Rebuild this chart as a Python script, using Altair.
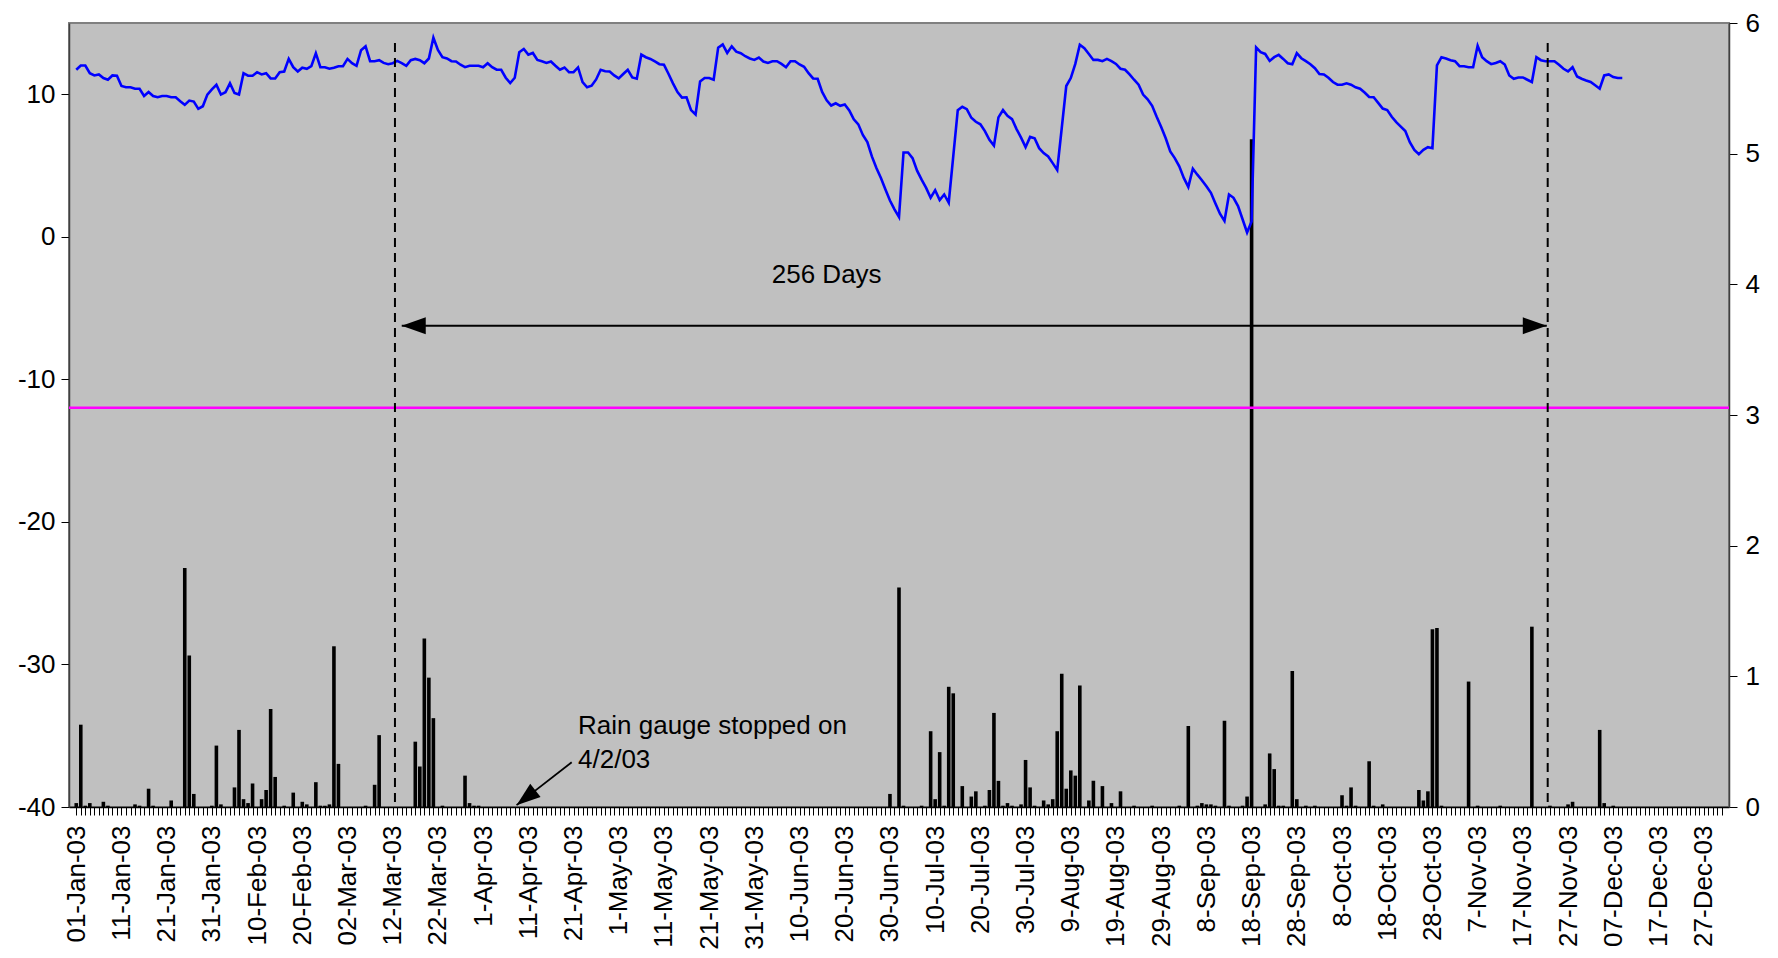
import altair as alt
import pandas as pd

FONT = "Liberation Sans"

# ---------------- data ----------------
tick_labels = [
    "01-Jan-03", "11-Jan-03", "21-Jan-03", "31-Jan-03", "10-Feb-03", "20-Feb-03",
    "02-Mar-03", "12-Mar-03", "22-Mar-03", "1-Apr-03", "11-Apr-03", "21-Apr-03",
    "1-May-03", "11-May-03", "21-May-03", "31-May-03", "10-Jun-03", "20-Jun-03",
    "30-Jun-03", "10-Jul-03", "20-Jul-03", "30-Jul-03", "9-Aug-03", "19-Aug-03",
    "29-Aug-03", "8-Sep-03", "18-Sep-03", "28-Sep-03", "8-Oct-03", "18-Oct-03",
    "28-Oct-03", "7-Nov-03", "17-Nov-03", "27-Nov-03", "07-Dec-03", "17-Dec-03",
    "27-Dec-03",
]
left_ticks = [-40, -30, -20, -10, 0, 10]
right_ticks = [0, 1, 2, 3, 4, 5, 6]

# daily values from 01-Jan-03 (left axis)
level_values = [
    11.72, 12.02, 12.02, 11.48, 11.32, 11.39, 11.14, 11.02, 11.32, 11.30,
    10.58, 10.49, 10.49, 10.39, 10.39, 9.88, 10.16, 9.88, 9.79, 9.88,
    9.88, 9.79, 9.79, 9.51, 9.26, 9.56, 9.49, 8.98, 9.16, 9.98,
    10.35, 10.67, 9.98, 10.14, 10.77, 10.09, 9.98, 11.48, 11.30, 11.30,
    11.55, 11.39, 11.48, 11.11, 11.11, 11.55, 11.60, 12.48, 11.90, 11.60,
    11.86, 11.79, 11.97, 12.88, 11.90, 11.90, 11.79, 11.86, 11.97, 11.97,
    12.48, 12.18, 12.00, 13.09, 13.36, 12.32, 12.32, 12.39, 12.20, 12.11,
    12.18, 12.34, 12.18, 12.00, 12.39, 12.48, 12.39, 12.18, 12.51, 13.97,
    13.11, 12.60, 12.51, 12.32, 12.30, 12.07,
    11.90, 12.00, 12.00, 12.00, 11.90, 12.18, 11.90, 11.72, 11.72, 11.16,
    10.79, 11.16, 12.95, 13.18, 12.78, 12.90, 12.41, 12.32, 12.20, 12.30,
    12.00, 11.72, 11.88, 11.55, 11.55, 11.88, 10.86, 10.49, 10.60, 11.04,
    11.72, 11.62, 11.60, 11.32, 11.11, 11.42, 11.72, 11.18, 11.09, 12.78,
    12.60, 12.48, 12.30, 12.11, 12.07, 11.44, 10.77, 10.16, 9.77, 9.79,
    8.89, 8.58, 10.90, 11.14, 11.14, 11.02, 13.27, 13.50, 12.90, 13.36,
    12.99, 12.88, 12.67, 12.51, 12.41, 12.58, 12.30, 12.20, 12.32, 12.32,
    12.13, 11.90, 12.32, 12.32, 12.09, 11.93, 11.48, 11.11, 11.09, 10.16,
    9.58, 9.21, 9.37, 9.19, 9.28, 8.86,
    8.24, 7.89, 7.15, 6.64, 5.64, 4.83, 4.13, 3.32, 2.55, 1.93,
    1.39, 5.92, 5.92, 5.52, 4.64, 4.01, 3.43, 2.74, 3.27, 2.58,
    2.97, 2.39, 5.64, 8.89, 9.12, 8.96, 8.35, 8.07, 7.89, 7.42,
    6.80, 6.40, 8.38, 8.89, 8.49, 8.26, 7.56, 6.96, 6.29, 7.01,
    6.91, 6.22, 5.87, 5.64, 5.17, 4.69, 7.63, 10.58, 11.14, 12.13,
    13.48, 13.23, 12.83, 12.41, 12.41, 12.32, 12.48, 12.32, 12.13, 11.79,
    11.72, 11.39, 11.02, 10.67, 9.98, 9.65, 9.19, 8.42, 7.70, 6.91,
    5.99, 5.52, 4.94, 4.13, 3.50, 4.78, 4.36, 3.97, 3.55, 3.09,
    2.34, 1.62, 1.11, 2.97, 2.74, 2.16, 1.23, 0.30,
    1.07,
    13.29, 12.95, 12.83, 12.34, 12.60, 12.76, 12.48, 12.18, 12.11, 12.88,
    12.53, 12.32, 12.11, 11.83, 11.42, 11.39, 11.16, 10.86, 10.67, 10.67,
    10.77, 10.67, 10.49, 10.39, 10.12, 9.81, 9.79, 9.40, 9.00, 8.89,
    8.42, 8.05, 7.73, 7.42, 6.64, 6.10, 5.80, 6.10, 6.29, 6.22,
    12.02, 12.60, 12.51, 12.39, 12.32, 11.97, 11.97, 11.90, 11.90, 13.41,
    12.60, 12.32, 12.11, 12.20, 12.32, 12.09, 11.32, 11.09, 11.18, 11.18,
    11.02, 10.86, 12.60, 12.39, 12.32, 12.32, 12.32, 12.07, 11.79, 11.60,
    11.90, 11.25, 11.09, 10.97, 10.86, 10.63, 10.39, 11.32, 11.39, 11.21,
    11.14, 11.14,
]

# rain (right axis): day index from 01-Jan-03 and amount
rain_day = [
    0, 1, 2, 3, 6, 7, 13, 14, 16, 17, 21, 24, 25, 26, 30, 31, 32, 35, 36, 37,
    38, 39, 41, 42, 43, 44, 46, 48, 50, 51, 53, 54, 55, 56, 57, 58, 64, 66, 67, 75,
    76, 77, 78, 79, 81, 86, 87, 88, 89,
    180, 182, 183, 187, 189, 190, 191, 192, 193, 194, 196, 198, 199, 201, 202, 203,
    204, 205, 206, 207, 209, 210, 211, 212, 214, 215, 216, 217, 218, 219, 220, 221,
    222, 224, 225, 227, 229, 231, 234, 238, 244, 246, 248, 249, 250, 251, 252, 254,
    255, 258, 259, 260, 263, 264, 265, 266, 267, 269, 270, 272, 274, 280, 281, 282,
    283, 286, 287, 289, 297, 298, 299, 300, 301, 302, 308, 310, 315, 322, 326, 330,
    331, 337, 338, 340,
]
rain_value = [
    0.03, 0.63, 0.01, 0.03, 0.04, 0.01, 0.02, 0.01, 0.14, 0.01, 0.05, 1.83, 1.16, 0.10, 0.01, 0.47, 0.02, 0.15, 0.59, 0.06,
    0.03, 0.18, 0.06, 0.13, 0.75, 0.23, 0.01, 0.11, 0.04, 0.02, 0.19, 0.01, 0.01, 0.02, 1.23, 0.33, 0.01, 0.17, 0.55, 0.50,
    0.31, 1.29, 0.99, 0.68, 0.01, 0.24, 0.03, 0.01, 0.01,
    0.10, 1.68, 0.01, 0.01, 0.58, 0.06, 0.42, 0.01, 0.92, 0.87, 0.16, 0.08, 0.12, 0.01, 0.13, 0.72,
    0.20, 0.01, 0.03, 0.01, 0.02, 0.36, 0.15, 0.01, 0.05, 0.02, 0.06, 0.58, 1.02, 0.14, 0.28, 0.24,
    0.93, 0.05, 0.20, 0.16, 0.03, 0.12, 0.01, 0.01, 0.01, 0.62, 0.01, 0.03, 0.02, 0.02, 0.01, 0.66,
    0.01, 0.01, 0.08, 5.11, 0.02, 0.41, 0.29, 0.01, 0.01, 1.04, 0.06, 0.01, 0.01, 0.09, 0.01, 0.15,
    0.01, 0.35, 0.01, 0.02, 0.13, 0.05, 0.12, 1.36, 1.37, 0.01, 0.96, 0.01, 0.01, 1.38, 0.01, 0.02,
    0.04, 0.59, 0.03, 0.01,
]

threshold_level = [-12]
period_bounds = [70.5, 325.5]        # dashed markers (day index)
period_top = 13.6
period_arrow = [72.0, 325.3]         # double arrow ends (day index)
period_arrow_level = -6.24
period_label = ["256 Days"]
period_label_pos = [166, -3.25]
gauge_text = ["Rain gauge stopped on", "4/2/03"]
gauge_text_pos = [111, -34.86, -37.23]
gauge_arrow = [109.6, -36.86, 97.4, -39.87]   # from (day, level) to tip (day, level)

# ---------------- tables ----------------
level_df = pd.DataFrame({"day": list(range(len(level_values))), "value": level_values})
rain_df = pd.DataFrame({"day": rain_day, "rain": rain_value})
thr_df = pd.DataFrame({"y": threshold_level})
bounds_df = pd.DataFrame({"day": period_bounds, "top": [period_top] * 2, "bottom": [-40] * 2})
arrow_df = pd.DataFrame({"x1": [period_arrow[0]], "x2": [period_arrow[1]], "y": [period_arrow_level]})
head_l_df = pd.DataFrame({"x": [period_arrow[0]], "y": [period_arrow_level]})
head_r_df = pd.DataFrame({"x": [period_arrow[1]], "y": [period_arrow_level]})
plabel_df = pd.DataFrame({"x": [period_label_pos[0]], "y": [period_label_pos[1]], "t": period_label})
gtext_df = pd.DataFrame({"x": [gauge_text_pos[0]] * 2, "y": gauge_text_pos[1:], "t": gauge_text})
garrow_df = pd.DataFrame({"x1": [gauge_arrow[0]], "y1": [gauge_arrow[1]],
                          "x2": [gauge_arrow[2]], "y2": [gauge_arrow[3]]})
ghead_df = pd.DataFrame({"x": [gauge_arrow[2]], "y": [gauge_arrow[3]]})

# ---------------- scales / axes ----------------
x_scale = alt.Scale(domain=[-0.5, 364.5], nice=False, zero=False)
yl_scale = alt.Scale(domain=[-40, 15], nice=False, zero=False)
yr_scale = alt.Scale(domain=[0, 6], nice=False)

label_js = "[" + ",".join("'" + s + "'" for s in tick_labels) + "]"
x_axis = alt.Axis(
    orient="bottom",
    values=list(range(0, 365)),
    labelExpr="datum.value % 10 === 0 ? " + label_js + "[datum.value / 10] : ''",
    labelAngle=270, labelFontSize=26, labelFont=FONT, labelColor="black",
    tickSize=8, tickColor="black", tickWidth=1, domainColor="black", domainWidth=1.5,
    labelOverlap=False, labelFlush=False, labelPadding=10, title=None, grid=False,
)
yl_axis = alt.Axis(
    orient="left", values=left_ticks, labelExpr="'' + datum.value",
    labelFontSize=26, labelFont=FONT,
    labelColor="black", tickSize=8, tickColor="black", domainColor="#404040", domainWidth=1.5,
    labelPadding=6, title=None, grid=False,
)
yr_axis = alt.Axis(
    orient="right", values=right_ticks, labelExpr="'' + datum.value",
    labelFontSize=26, labelFont=FONT,
    labelColor="black", tickSize=8, tickColor="black", domainColor="#404040", domainWidth=1.5,
    labelPadding=8, title=None, grid=False,
)

# every layer gets the same axis definition so that merged axes agree
X = lambda f: alt.X(f, scale=x_scale, axis=x_axis)
YL = lambda f: alt.Y(f, scale=yl_scale, axis=yl_axis)

# ---------------- marks ----------------
bars = alt.Chart(rain_df).mark_bar(color="black", size=3.6).encode(
    x=X("day:Q"), y=alt.Y("rain:Q", scale=yr_scale, axis=yr_axis)
)

line = alt.Chart(level_df).mark_line(color="#0000FF", strokeWidth=2.6).encode(
    x=X("day:Q"), y=YL("value:Q")
)

thr = alt.Chart(thr_df).mark_rule(color="#FF00FF", strokeWidth=2.5).encode(y=YL("y:Q"))

bounds = alt.Chart(bounds_df).mark_rule(color="black", strokeWidth=2, strokeDash=[9, 6]).encode(
    x=X("day:Q"), y=YL("top:Q"), y2="bottom:Q"
)

shaft = alt.Chart(arrow_df).mark_rule(color="black", strokeWidth=2).encode(
    x=X("x1:Q"), x2="x2:Q", y=YL("y:Q")
)
head_l = alt.Chart(head_l_df).mark_point(
    shape="M -1 0 L 1 -0.7 L 1 0.7 Z", size=576, filled=True, color="black", opacity=1, xOffset=12
).encode(x=X("x:Q"), y=YL("y:Q"))
head_r = alt.Chart(head_r_df).mark_point(
    shape="M 1 0 L -1 -0.7 L -1 0.7 Z", size=576, filled=True, color="black", opacity=1, xOffset=-12
).encode(x=X("x:Q"), y=YL("y:Q"))

plabel = alt.Chart(plabel_df).mark_text(
    font=FONT, fontSize=26, align="center", baseline="alphabetic", color="black"
).encode(x=X("x:Q"), y=YL("y:Q"), text="t:N")

gtext = alt.Chart(gtext_df).mark_text(
    font=FONT, fontSize=26, align="left", baseline="alphabetic", color="black"
).encode(x=X("x:Q"), y=YL("y:Q"), text="t:N")

gshaft = alt.Chart(garrow_df).mark_rule(color="black", strokeWidth=1.8).encode(
    x=X("x1:Q"), x2="x2:Q", y=YL("y1:Q"), y2="y2:Q"
)
ghead = alt.Chart(ghead_df).mark_point(
    shape="M 1 0 L -1 -0.7 L -1 0.7 Z", size=576, filled=True, color="black", opacity=1,
    angle=141.9, xOffset=9.4, yOffset=-7.4
).encode(x=X("x:Q"), y=YL("y:Q"))

left = alt.layer(line, thr, bounds, shaft, head_l, head_r, plabel, gtext, gshaft, ghead)

chart = (
    alt.layer(bars, left)
    .resolve_scale(y="independent")
    .properties(
        width=1660, height=784,
        padding={"left": 61, "top": 15, "right": 40, "bottom": 145},
        autosize=alt.AutoSizeParams(type="none"),
        background="white",
    )
    .configure_view(fill="#C0C0C0", stroke="#808080", strokeWidth=2)
)

chart.save("out.html", embed_options={"renderer": "svg", "actions": False})
